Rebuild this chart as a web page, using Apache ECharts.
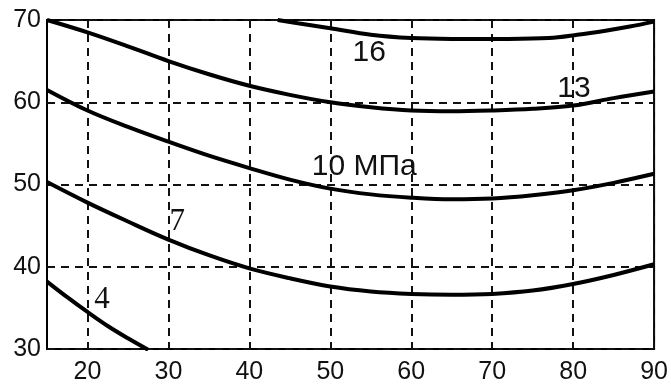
<!DOCTYPE html>
<html>
<head>
<meta charset="utf-8">
<script src="https://cdn.jsdelivr.net/npm/echarts@6/dist/echarts.min.js"></script>
<style>
  html, body { margin: 0; padding: 0; background: #fff; }
  #chart { width: 671px; height: 385px; }
</style>
</head>
<body>
<div id="chart"></div>
<script>
// кривые постоянного давления, [x, y]
var curve4 = [[15, 38.2], [17.5, 36.3], [20, 34.5], [22.5, 32.8], [25, 31.3], [27.5, 29.9]];
var curve7 = [[15, 50.3], [20, 47.8], [25, 45.5], [30, 43.3], [35, 41.4], [40, 39.8], [45, 38.6], [50, 37.6],
  [55, 37.0], [60, 36.7], [65, 36.6], [70, 36.7], [75, 37.1], [80, 37.9], [85, 39.0], [90, 40.3]];
var curve10 = [[15, 61.5], [20, 59.0], [25, 57.0], [30, 55.2], [35, 53.5], [40, 52.0], [45, 50.6], [50, 49.5],
  [55, 48.8], [60, 48.4], [65, 48.2], [70, 48.3], [75, 48.7], [80, 49.3], [85, 50.2], [90, 51.3]];
var curve13 = [[15, 70], [20, 68.5], [25, 66.8], [30, 65.0], [35, 63.4], [40, 62.0], [45, 60.9], [50, 60.0],
  [55, 59.4], [60, 59.0], [65, 58.9], [70, 59.0], [75, 59.2], [80, 59.6], [85, 60.5], [90, 61.3]];
var curve16 = [[43.5, 70], [46, 69.6], [50, 69.0], [55, 68.2], [60, 67.8], [65, 67.7],
  [72, 67.7], [77, 67.8], [80.5, 68.2], [84, 68.7], [87, 69.2], [90, 69.8]];

var xTicks = [20, 30, 40, 50, 60, 70, 80, 90];
var labels = [
  { text: '4', at: [21.8, 36.0], serif: true },
  { text: '7', at: [31.1, 45.4], serif: true },
  { text: '10 МПа', at: [54.2, 52.2] },
  { text: '13', at: [80.1, 61.6] },
  { text: '16', at: [54.8, 66.0] }
];
var curves = [curve4, curve7, curve10, curve13, curve16];

var series = curves.map(function (c, i) {
  var lb = labels[i];
  return {
    type: 'line',
    data: c,
    smooth: 0.35,
    symbol: 'none',
    clip: true,
    lineStyle: { color: '#000', width: 4 },
    markPoint: {
      symbol: 'circle',
      symbolSize: 0,
      label: {
        show: true,
        position: 'inside',
        formatter: lb.text,
        color: '#111',
        fontSize: lb.serif ? 31 : 30,
        fontFamily: lb.serif ? 'Liberation Serif' : 'Liberation Sans'
      },
      data: [{ coord: lb.at }]
    }
  };
});

var option = {
  animation: false,
  backgroundColor: '#fff',
  grid: {
    left: 47, right: 15, top: 20, bottom: 36,
    show: true, borderColor: '#000', borderWidth: 2
  },
  xAxis: {
    type: 'value',
    min: 15, max: 90,
    axisLine: { show: false },
    axisTick: { show: false, customValues: xTicks },
    axisLabel: {
      customValues: xTicks, margin: 11,
      color: '#111', fontSize: 25, fontFamily: 'Liberation Sans'
    },
    splitLine: { show: true, lineStyle: { color: '#111', width: 2, type: [8, 6] } }
  },
  yAxis: {
    type: 'value',
    min: 30, max: 70, interval: 10,
    axisLine: { show: false },
    axisTick: { show: false },
    axisLabel: { margin: 6, color: '#111', fontSize: 25, fontFamily: 'Liberation Sans' },
    splitLine: { show: true, lineStyle: { color: '#111', width: 2, type: [8, 6] } }
  },
  series: series
};

var myChart = echarts.init(document.getElementById('chart'));
myChart.setOption(option);
</script>
</body>
</html>
